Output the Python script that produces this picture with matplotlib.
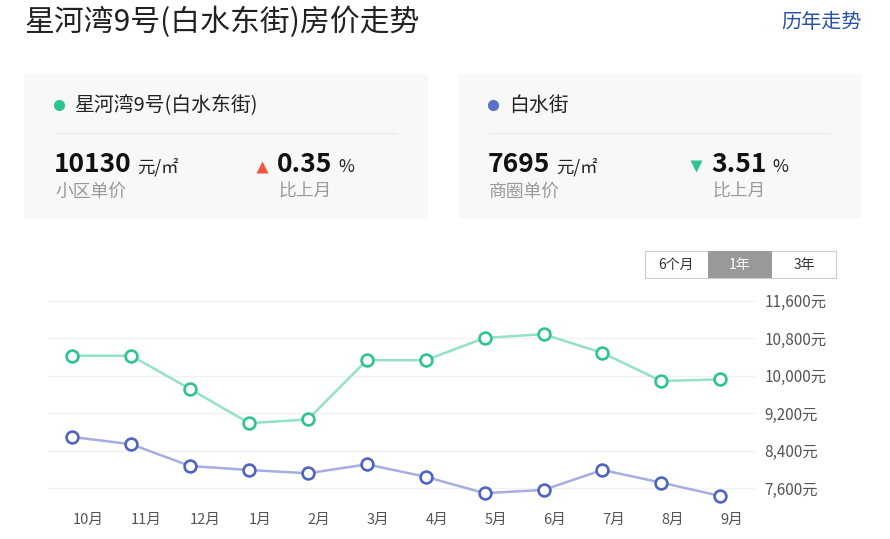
import matplotlib
matplotlib.use("Agg")
import matplotlib.pyplot as plt
from matplotlib.patches import FancyBboxPatch, Rectangle

plt.rcParams['font.family'] = ['Noto Sans CJK SC', 'DejaVu Sans']

# data
months = ['10月', '11月', '12月', '1月', '2月', '3月', '4月', '5月', '6月', '7月', '8月', '9月']
estate_prices = [10430, 10430, 9720, 8990, 9070, 10335, 10335, 10810, 10890, 10490, 9890, 9925]
district_prices = [8695, 8540, 8075, 7990, 7920, 8110, 7845, 7495, 7565, 7990, 7720, 7435]
y_ticks = [7600, 8400, 9200, 10000, 10800, 11600]

estate_name = '星河湾9号(白水东街)'
district_name = '白水街'
estate_price = '10130'
district_price = '7695'
estate_change = '0.35'
district_change = '3.51'

GREEN = '#2dc48d'
GREEN_LINE = '#93e2c3'
BLUE = '#4f63c2'
BLUE_LINE = '#a5aee0'
RED = '#f5533d'

W, H = 890, 539
fig = plt.figure(figsize=(W / 100, H / 100), dpi=100)
renderer = fig.canvas.get_renderer()

# page layer in pixel coordinates
bg = fig.add_axes([0, 0, 1, 1])
bg.set_xlim(0, W)
bg.set_ylim(H, 0)
bg.axis('off')

bg.text(24, 22, '星河湾9号(白水东街)房价走势', fontsize=21.5, color='#222222',
        va='center', ha='left')
bg.text(862, 22, '历年走势', fontsize=14.5, color='#2a4fa8', va='center', ha='right')


def right_edge(t):
    # right edge of a text in page pixels
    bb = t.get_window_extent(renderer=renderer)
    return bb.x1


def value_with_unit(x, y, value, unit):
    t = bg.text(x, y, value, fontsize=19, fontweight='bold', color='#111111',
                va='center', ha='left')
    x1 = right_edge(t)
    bg.text(x1 + 6, y + 2, unit, fontsize=12.5, color='#222222', va='center', ha='left')


def card(x0, name, dot_color, price, price_label, change, up):
    bg.add_patch(FancyBboxPatch((x0, 74), 404, 145, boxstyle='round,pad=0,rounding_size=3',
                                fc='#f8f8f8', ec='none'))
    bg.plot([x0 + 35], [105], 'o', ms=7, color=dot_color)
    bg.text(x0 + 51, 105, name, fontsize=14.3, color='#222222', va='center', ha='left')
    bg.plot([x0 + 32, x0 + 372], [133, 133], color='#ececec', lw=0.8)
    value_with_unit(x0 + 30, 165, price, '元/㎡')
    bg.text(x0 + 31, 192, price_label, fontsize=12.8, color='#9a9a9a', va='center', ha='left')
    cx = x0 + 238
    if up:
        bg.plot([cx], [167], '^', ms=8, color=RED, mec='none')
    else:
        bg.plot([cx], [166], 'v', ms=8, color=GREEN, mec='none')
    value_with_unit(cx + 15, 165, change, '%')
    bg.text(cx + 16, 192, '比上月', fontsize=12.8, color='#9a9a9a', va='center', ha='left')


card(24, estate_name, GREEN, estate_price, '小区单价', estate_change, True)
card(458, district_name, '#5a6fc8', district_price, '商圈单价', district_change, False)

# period switch
bg.add_patch(Rectangle((645, 251), 191, 27, fc='white', ec='#cccccc', lw=0.8))
bg.add_patch(Rectangle((708, 251), 64, 27, fc='#999999', ec='none'))
bg.text(676, 265, '6个月', fontsize=10, color='#333333', ha='center', va='center')
bg.text(740, 265, '1年', fontsize=10, color='white', ha='center', va='center')
bg.text(804, 265, '3年', fontsize=10, color='#333333', ha='center', va='center')

# line chart
ax = fig.add_axes([48 / W, 0.0594, 707 / W, 0.4083])
x = list(range(len(months)))
ax.plot(x, estate_prices, color=GREEN_LINE, lw=1.8, zorder=3,
        marker='o', ms=8.5, mfc='white', mec=GREEN, mew=1.9)
ax.plot(x, district_prices, color=BLUE_LINE, lw=1.8, zorder=3,
        marker='o', ms=8.5, mfc='white', mec=BLUE, mew=1.9)

ax.set_xlim(-0.4126, 11.59)
ax.set_ylim(7200, 11900)
ax.patch.set_alpha(0)
for s in ax.spines.values():
    s.set_visible(False)
for v in y_ticks:
    ax.axhline(v, color='#f1f1f1', lw=1, zorder=1)

ax.yaxis.tick_right()
ax.set_yticks(y_ticks)
ax.set_yticklabels([f'{v:,}元' for v in y_ticks])
ax.tick_params(axis='y', length=0, pad=7, labelsize=11, labelcolor='#555555')
ax.set_xticks(x)
ax.set_xticklabels(months)
ax.tick_params(axis='x', length=0, pad=4, labelsize=10.5, labelcolor='#555555')
for lbl in ax.get_xticklabels():
    lbl.set_horizontalalignment('left')

fig.savefig('out.png', dpi=100, facecolor='white')
